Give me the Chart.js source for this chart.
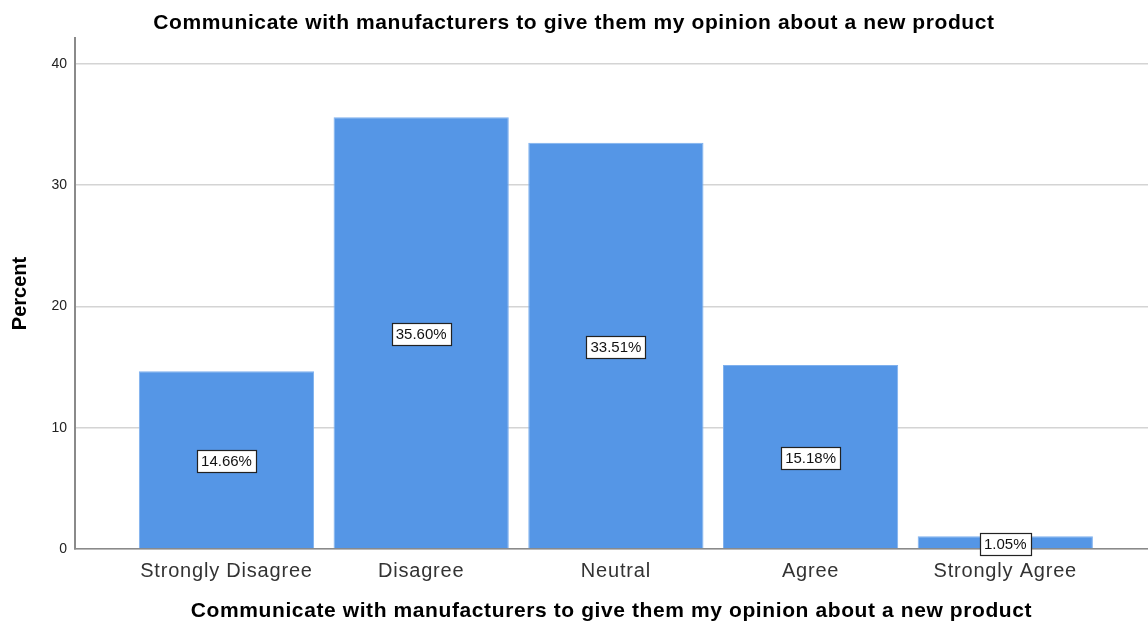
<!DOCTYPE html>
<html>
<head>
<meta charset="utf-8">
<script src="https://cdn.jsdelivr.net/npm/chart.js@4.4.1/dist/chart.umd.min.js"></script>
<style>
  html, body { margin: 0; padding: 0; background: #ffffff; }
  #wrap { width: 1148px; height: 623px; position: relative; }
</style>
</head>
<body>
<div id="wrap"><canvas id="c" width="1148" height="623"></canvas></div>
<script>
// Response categories and the percentage of respondents in each
const categories = ['Strongly Disagree', 'Disagree', 'Neutral', 'Agree', 'Strongly Agree'];
const percents = [14.66, 35.60, 33.51, 15.18, 1.05];
const yTicks = [0, 10, 20, 30, 40];
const chartTitle = 'Communicate with manufacturers to give them my opinion about a new product';
const yTitle = 'Percent';

const FONT = "'Liberation Sans', Arial, Helvetica, sans-serif";

// Slightly looser tracking for the large titles and category labels
const tracking = {
  id: 'tracking',
  beforeInit(chart) {
    const ctx = chart.ctx;
    const orig = ctx.fillText.bind(ctx);
    ctx.fillText = function (text, x, y, maxWidth) {
      const f = ctx.font;
      let sp = '0px';
      if (f.indexOf('bold') !== -1 && f.indexOf('21px') !== -1) sp = '0.6px';
      else if (f.indexOf('bold') === -1 && f.indexOf('20px') !== -1) sp = '0.8px';
      if ('letterSpacing' in ctx) ctx.letterSpacing = sp;
      if (maxWidth === undefined) orig(text, x, y); else orig(text, x, y, maxWidth);
      if ('letterSpacing' in ctx) ctx.letterSpacing = '0px';
    };
  }
};

// Boxed value labels in the middle of each bar
const valueBoxes = {
  id: 'valueBoxes',
  afterDatasetsDraw(chart) {
    const ctx = chart.ctx;
    const meta = chart.getDatasetMeta(0);
    ctx.save();
    ctx.font = '15px ' + FONT;
    ctx.textAlign = 'center';
    ctx.textBaseline = 'middle';
    meta.data.forEach((bar, i) => {
      const txt = percents[i].toFixed(2) + '%';
      const cy = (bar.y + bar.base) / 2 + 1.5;
      const w = Math.round(ctx.measureText(txt).width + 8);
      const h = 22;
      const x0 = Math.round(bar.x - w / 2) + 0.5;
      const y0 = Math.round(cy - h / 2) + 0.5;
      ctx.fillStyle = '#ffffff';
      ctx.fillRect(x0, y0, w, h);
      ctx.strokeStyle = '#222222';
      ctx.lineWidth = 1.2;
      ctx.strokeRect(x0, y0, w, h);
      ctx.fillStyle = '#111111';
      ctx.fillText(txt, bar.x, cy + 1);
    });
    ctx.restore();
  }
};

new Chart(document.getElementById('c'), {
  type: 'bar',
  data: {
    datasets: [{
      data: percents.map((v, i) => ({ x: i, y: v })),
      backgroundColor: '#5596e6',
      borderColor: '#7eb0ee',
      borderWidth: 1,
      borderSkipped: 'bottom',
      barPercentage: 0.9,
      categoryPercentage: 1.0
    }]
  },
  options: {
    responsive: false,
    animation: false,
    devicePixelRatio: 1,
    layout: { padding: 0 },
    plugins: {
      legend: { display: false },
      tooltip: { enabled: false },
      title: {
        display: true,
        text: chartTitle,
        color: '#000000',
        font: { family: FONT, size: 21, weight: 'bold' },
        padding: { top: 10.9, bottom: 1.9 }
      }
    },
    scales: {
      x: {
        type: 'linear',
        min: -0.778,
        max: 4.733,
        offset: false,
        afterBuildTicks(scale) {
          scale.ticks = categories.map((_, i) => ({ value: i }));
        },
        afterFit(scale) { scale.height = 74; },
        ticks: {
          autoSkip: false,
          maxRotation: 0,
          padding: 10,
          color: '#333333',
          font: { family: FONT, size: 20 },
          callback: (v) => categories[v] ?? ''
        },
        grid: { display: true, drawOnChartArea: false, drawTicks: false },
        border: { display: true, color: '#8a8a8a', width: 1.5 },
        title: {
          display: true,
          text: chartTitle,
          color: '#000000',
          font: { family: FONT, size: 21, weight: 'bold' },
          padding: { top: 0, bottom: -1 }
        }
      },
      y: {
        min: 0,
        max: 42.14,
        afterBuildTicks(scale) {
          scale.ticks = yTicks.map(v => ({ value: v }));
        },
        afterFit(scale) { scale.width = 75; },
        ticks: {
          padding: 8,
          color: '#222222',
          font: { family: FONT, size: 14 }
        },
        grid: { color: '#d4d4d4', lineWidth: 1.5, drawTicks: false },
        border: { display: true, color: '#8a8a8a', width: 2 },
        title: {
          display: true,
          text: yTitle,
          color: '#000000',
          font: { family: FONT, size: 20, weight: 'bold' },
          padding: { top: 8.6, bottom: 0 }
        }
      }
    }
  },
  plugins: [tracking, valueBoxes]
});
</script>
</body>
</html>
